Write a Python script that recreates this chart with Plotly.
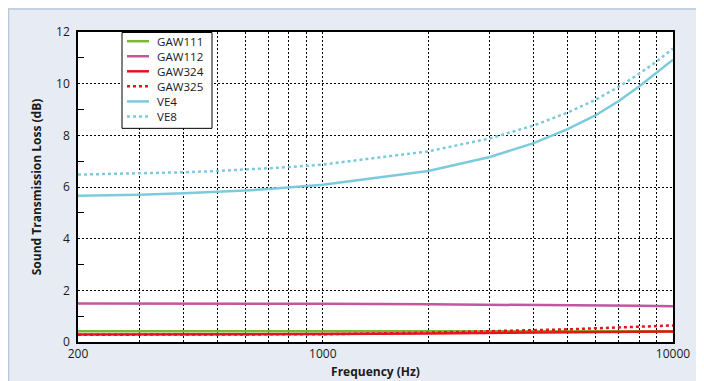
import plotly.graph_objects as go

freq = [200, 300, 400, 500, 600, 700, 800, 900, 1000, 2000, 3000, 4000, 5000, 6000, 7000, 8000, 9000, 10000]
gaw111 = [0.42, 0.42, 0.42, 0.42, 0.42, 0.42, 0.42, 0.42, 0.42, 0.42, 0.42, 0.42, 0.42, 0.42, 0.42, 0.42, 0.42, 0.42]
gaw112 = [1.49, 1.49, 1.49, 1.49, 1.49, 1.48, 1.48, 1.48, 1.48, 1.46, 1.45, 1.44, 1.43, 1.42, 1.41, 1.40, 1.39, 1.38]
gaw324 = [0.29, 0.29, 0.29, 0.30, 0.30, 0.30, 0.30, 0.31, 0.31, 0.33, 0.35, 0.36, 0.37, 0.38, 0.39, 0.40, 0.40, 0.41]
gaw325 = [0.28, 0.28, 0.28, 0.28, 0.29, 0.29, 0.29, 0.30, 0.30, 0.36, 0.41, 0.45, 0.49, 0.53, 0.57, 0.60, 0.62, 0.64]
ve4 = [5.66, 5.70, 5.76, 5.81, 5.86, 5.92, 5.98, 6.03, 6.09, 6.62, 7.16, 7.70, 8.24, 8.77, 9.33, 9.89, 10.42, 10.93]
ve8 = [6.48, 6.52, 6.57, 6.62, 6.67, 6.72, 6.77, 6.82, 6.87, 7.38, 7.88, 8.38, 8.88, 9.37, 9.88, 10.38, 10.87, 11.36]

names = ["GAW111", "GAW112", "GAW324", "GAW325", "VE4", "VE8"]
series = [gaw111, gaw112, gaw324, gaw325, ve4, ve8]
colors = ["#7ab833", "#c4559f", "#e3141b", "#e3141b", "#7ccbdd", "#7ccbdd"]
dashes = ["solid", "solid", "solid", "dot", "solid", "dot"]

x_tickvals = [200, 300, 400, 500, 600, 700, 800, 900, 1000, 2000, 3000, 4000, 5000, 6000, 7000, 8000, 9000, 10000]
x_ticktext = ["200", "", "", "", "", "", "", "", "1000", "", "", "", "", "", "", "", "", "10000"]
y_tickvals = [0, 2, 4, 6, 8, 10, 12]
y_minor = [1, 3, 5, 7, 9, 11]

W, H = 704, 381
OFF = 8  # page body margin: screenshot coords = figure coords + 8
L, R, T, B = 78 - OFF, 673 - OFF, 31.5 - OFF, 342 - OFF
FONT = "Open Sans"
PANEL = "#e7ebf3"
LEG_FS = 11.6
ROW = LEG_FS * 1.3

def px(xs):
    return (xs - OFF - L) / (R - L)

def py(ys):
    return (B - (ys - OFF)) / (B - T)

fig = go.Figure()
for name, vals, col, dash in zip(names, series, colors, dashes):
    fig.add_trace(go.Scatter(
        x=freq, y=vals, mode="lines", name=name, showlegend=False,
        line=dict(color=col, width=2.5, dash=dash),
    ))

shapes = [
    dict(type="line", xref="paper", yref="paper", x0=px(8), x1=px(W + 20), y0=py(8.5), y1=py(8.5),
         line=dict(color="#b7c7dc", width=1.5), layer="below"),
    dict(type="line", xref="paper", yref="paper", x0=px(8.5), x1=px(8.5), y0=py(8), y1=py(H + 20),
         line=dict(color="#b7c7dc", width=1.5), layer="below"),
]

# legend box
lg_x0, lg_x1, lg_y0, lg_y1 = 122, 212, 32, 128
shapes.append(dict(type="rect", xref="paper", yref="paper", x0=px(lg_x0), x1=px(lg_x1),
                   y0=py(lg_y1), y1=py(lg_y0), fillcolor="white", line=dict(color="black", width=1)))
first_row = 40.7
row_y = [first_row + i * ROW for i in range(len(names))]
for col, dash, ry in zip(colors, dashes, row_y):
    shapes.append(dict(type="line", xref="paper", yref="paper", x0=px(127), x1=px(149),
                       y0=py(ry), y1=py(ry), line=dict(color=col, width=2.5, dash=dash)))
mid = (row_y[0] + row_y[-1]) / 2
annotations = [dict(xref="paper", yref="paper", x=px(156), y=py(mid), text="<br>".join(names),
                    showarrow=False, xanchor="left", yanchor="middle", align="left", borderpad=0,
                    font=dict(family=FONT, size=LEG_FS, color="#1a1a1a"))]

fig.update_layout(
    width=W, height=H,
    margin=dict(l=L, r=W - R, t=T, b=H - B, autoexpand=False),
    paper_bgcolor=PANEL, plot_bgcolor="white",
    showlegend=False,
    shapes=shapes, annotations=annotations,
    font=dict(family=FONT, size=12, color="#1a1a1a"),
    xaxis=dict(
        type="log", range=[2.30103, 4.0],
        tickvals=x_tickvals, ticktext=x_ticktext, ticks="",
        showgrid=True, gridcolor="black", gridwidth=1, griddash="2px,2px",
        showline=True, linecolor="black", linewidth=1.5, mirror=True,
        zeroline=False, tickfont=dict(size=12),
        title=dict(text="<b>Frequency (Hz)</b>", font=dict(size=12), standoff=6),
    ),
    yaxis=dict(
        range=[0, 12], tickvals=y_tickvals, ticks="",
        showgrid=True, gridcolor="black", gridwidth=1, griddash="2px,2px",
        showline=True, linecolor="black", linewidth=1.5, mirror=True,
        zeroline=False, tickfont=dict(size=12), ticklabelstandoff=4,
        minor=dict(tickvals=y_minor, ticks="inside", ticklen=6, tickcolor="black", tickwidth=1, showgrid=False),
        title=dict(text="<b>Sound Transmission Loss (dB)</b>", font=dict(size=12), standoff=12),
    ),
)

fig.write_html("out.html")
